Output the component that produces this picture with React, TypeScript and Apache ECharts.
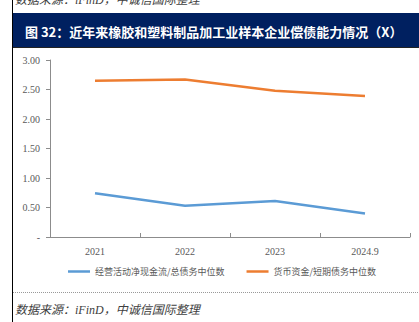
import React, { useEffect, useRef } from "react";
import * as echarts from "echarts";

const categories = ["2021", "2022", "2023", "2024.9"];
const cashFlowRatio = [0.74, 0.53, 0.61, 0.4];
const cashShortDebt = [2.65, 2.67, 2.48, 2.39];
const seriesNames = ["经营活动净现金流/总债务中位数", "货币资金/短期债务中位数"];
const titleText = "图 32：近年来橡胶和塑料制品加工业样本企业偿债能力情况（X）";
const sourceText = "数据来源：iFinD，中诚信国际整理";

export default function App() {
  const ref = useRef<HTMLDivElement>(null);
  useEffect(() => {
    document.body.style.margin = "0";
    const chart = echarts.init(ref.current!, null, { renderer: "svg" });
    const labelColor = "#595959";
    chart.setOption({
      animation: false,
      backgroundColor: "#ffffff",
      grid: { left: 50, right: 9, top: 60, bottom: 85, containLabel: false },
      xAxis: {
        type: "category",
        data: categories,
        boundaryGap: true,
        axisLine: { lineStyle: { color: "#8c8c8c", width: 1 } },
        axisTick: { show: true, inside: true, length: 4, lineStyle: { color: "#8c8c8c" } },
        axisLabel: { color: labelColor, fontSize: 10, fontFamily: "Liberation Serif", margin: 9 },
      },
      yAxis: {
        type: "value",
        min: 0,
        max: 3,
        interval: 0.5,
        axisLine: { show: true, lineStyle: { color: "#8c8c8c", width: 1 } },
        axisTick: { show: true, length: 4, lineStyle: { color: "#8c8c8c" } },
        splitLine: { show: false },
        axisLabel: {
          color: labelColor,
          fontSize: 10,
          fontFamily: "Liberation Serif",
          margin: 10,
          formatter: (v: number) => (v === 0 ? "-" : v.toFixed(2)),
        },
      },
      legend: {
        left: 63,
        top: 262,
        icon: "rect",
        itemWidth: 22,
        itemHeight: 2.5,
        itemGap: 22,
        textStyle: { color: labelColor, fontSize: 9, fontFamily: "Noto Sans CJK SC" },
        data: seriesNames,
      },
      series: [
        {
          name: seriesNames[0],
          type: "line",
          data: cashFlowRatio,
          symbol: "none",
          lineStyle: { color: "#5B9BD5", width: 2.5 },
          itemStyle: { color: "#5B9BD5" },
        },
        {
          name: seriesNames[1],
          type: "line",
          data: cashShortDebt,
          symbol: "none",
          lineStyle: { color: "#ED7D31", width: 2.5 },
          itemStyle: { color: "#ED7D31" },
        },
      ],
      graphic: [
        { type: "line", shape: { x1: 12.5, y1: 0, x2: 12.5, y2: 322 }, style: { stroke: "#000", lineWidth: 1 } },
        {
          type: "text",
          left: 15,
          top: -6,
          style: {
            text: sourceText,
            fontSize: 12,
            fontStyle: "italic",
            fontFamily: "Liberation Serif, Noto Sans CJK SC",
            fill: "#404040",
          },
        },
        { type: "rect", shape: { x: 13, y: 13, width: 406, height: 34 }, style: { fill: "#002060" } },
        { type: "line", shape: { x1: 13, y1: 47.5, x2: 419, y2: 47.5 }, style: { stroke: "#222", lineWidth: 1 } },
        {
          type: "text",
          x: 25,
          y: 31,
          style: {
            text: titleText,
            fontSize: 13,
            fontWeight: "bold",
            fontFamily: "Noto Sans CJK SC",
            fill: "#ffffff",
            verticalAlign: "middle",
          },
        },
        {
          type: "line",
          shape: { x1: 13, y1: 292.5, x2: 419, y2: 292.5 },
          style: { stroke: "#999", lineWidth: 1, lineDash: [1, 1] },
        },
        {
          type: "text",
          x: 15,
          y: 310,
          style: {
            text: sourceText,
            fontSize: 12,
            fontStyle: "italic",
            fontFamily: "Liberation Serif, Noto Sans CJK SC",
            fill: "#404040",
            verticalAlign: "middle",
          },
        },
      ],
    });
    return () => chart.dispose();
  }, []);
  return <div ref={ref} style={{ width: 419, height: 322 }} />;
}
